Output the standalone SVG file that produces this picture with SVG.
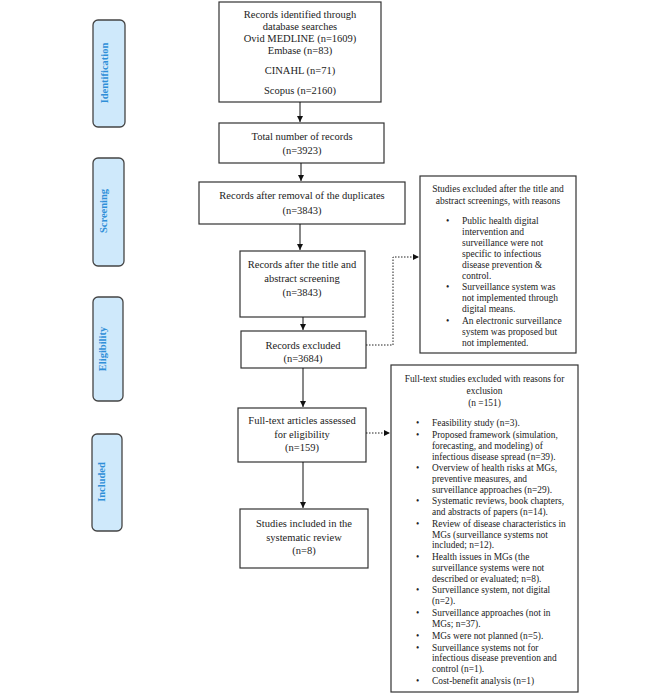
<svg xmlns="http://www.w3.org/2000/svg" width="670" height="695" viewBox="0 0 670 695">
<defs>
<marker id="ah" viewBox="0 0 10 10" refX="10" refY="5" markerWidth="6" markerHeight="6" markerUnits="userSpaceOnUse" orient="auto">
<path d="M0,0 L10,5 L0,10 z" fill="#111"/>
</marker>
</defs>
<style>
.box{fill:#fff;stroke:#333;stroke-width:1.2}
.stage{fill:#cfe9fb;stroke:#444;stroke-width:1.3}
.st{font-family:"Liberation Serif",serif;font-weight:bold;font-size:10.5px;fill:#2f8fd8}
.t{font-family:"Liberation Serif",serif;font-size:10.5px;fill:#222}
.m{text-anchor:middle}
.s{font-family:"Liberation Serif",serif;font-size:9.5px;fill:#222}
.s2{font-family:"Liberation Serif",serif;font-size:9.4px;fill:#222}
.c{fill:none;stroke:#111;stroke-width:1}
.d{fill:none;stroke:#222;stroke-width:1;stroke-dasharray:1.5 1.5}
</style>
<g id="stage-identification">
<rect class="stage" x="93" y="20" width="32" height="107" rx="5"/>
<text class="st m" transform="translate(108,73) rotate(-90)">Identification</text>
</g>
<g id="stage-screening">
<rect class="stage" x="93" y="158" width="31" height="108" rx="5"/>
<text class="st m" transform="translate(107,211) rotate(-90)">Screening</text>
</g>
<g id="stage-eligibility">
<rect class="stage" x="93" y="297" width="30" height="104" rx="5"/>
<text class="st m" transform="translate(106,349) rotate(-90)">Eligibility</text>
</g>
<g id="stage-included">
<rect class="stage" x="92" y="434" width="30" height="97" rx="5"/>
<text class="st m" transform="translate(105,482) rotate(-90)">Included</text>
</g>

<g id="n-records">
<rect class="box" x="219" y="2" width="162" height="100"/>
<text class="t m" x="300" y="17.5">Records identified through</text>
<text class="t m" x="300" y="30">database searches</text>
<text class="t m" x="300" y="42">Ovid MEDLINE (n=1609)</text>
<text class="t m" x="300" y="54">Embase (n=83)</text>
<text class="t m" x="300" y="74">CINAHL (n=71)</text>
<text class="t m" x="300" y="94">Scopus (n=2160)</text>
</g>
<g id="n-total">
<rect class="box" x="219" y="123" width="165" height="40"/>
<text class="t m" x="302" y="139.5">Total number of records</text>
<text class="t m" x="302" y="153.5">(n=3923)</text>
</g>
<g id="n-dup">
<rect class="box" x="199" y="182" width="206" height="42"/>
<text class="t m" x="302" y="198.5">Records after removal of the duplicates</text>
<text class="t m" x="302" y="213.5">(n=3843)</text>
</g>
<g id="n-title">
<rect class="box" x="240" y="251" width="125" height="66"/>
<text class="t m" x="302" y="267.5">Records after the title and</text>
<text class="t m" x="302" y="281.5">abstract screening</text>
<text class="t m" x="302" y="295.5">(n=3843)</text>
</g>
<g id="n-excluded">
<rect class="box" x="241" y="331" width="125" height="37"/>
<text class="t m" x="303" y="348.5">Records excluded</text>
<text class="t m" x="303" y="361.5">(n=3684)</text>
</g>
<g id="n-fulltext">
<rect class="box" x="238" y="408" width="128" height="54"/>
<text class="t m" x="302" y="423.5">Full-text articles assessed</text>
<text class="t m" x="302" y="437.5">for eligibility</text>
<text class="t m" x="302" y="450.5">(n=159)</text>
</g>
<g id="n-included">
<rect class="box" x="240" y="509" width="128" height="59"/>
<text class="t m" x="304" y="526.5">Studies included in the</text>
<text class="t m" x="304" y="540.5">systematic review</text>
<text class="t m" x="304" y="553.5">(n=8)</text>
</g>

<g id="n-excl1">
<rect class="box" x="420" y="176" width="156" height="177"/>
<text class="s m" x="498" y="191.5">Studies excluded after the title and</text>
<text class="s m" x="498" y="203.5">abstract screenings, with reasons</text>
<g class="s">
<text x="446" y="223.5">•</text>
<text x="462" y="223.5">Public health digital</text>
<text x="462" y="234.5">intervention and</text>
<text x="462" y="245.5">surveillance were not</text>
<text x="462" y="256.5">specific to infectious</text>
<text x="462" y="267.5">disease prevention &amp;</text>
<text x="462" y="278.5">control.</text>
<text x="446" y="289.5">•</text>
<text x="462" y="289.5">Surveillance system was</text>
<text x="462" y="300.5">not implemented through</text>
<text x="462" y="311.5">digital means.</text>
<text x="446" y="323.5">•</text>
<text x="462" y="323.5">An electronic surveillance</text>
<text x="462" y="334.5">system was proposed but</text>
<text x="462" y="345.5">not implemented.</text>
</g>
</g>

<g id="n-excl2">
<rect class="box" x="391" y="365" width="187" height="327"/>
<text class="s2 m" x="484.5" y="381.5">Full-text studies excluded with reasons for</text>
<text class="s2 m" x="484.5" y="393.5">exclusion</text>
<text class="s2 m" x="484.5" y="405.5">(n =151)</text>
<g class="s2">
<text x="416" y="425.5">•</text><text x="432" y="425.5">Feasibility study (n=3).</text>
<text x="416" y="437.5">•</text><text x="432" y="437.5">Proposed framework (simulation,</text>
<text x="432" y="448.5">forecasting, and modeling) of</text>
<text x="432" y="459.5">infectious disease spread (n=39).</text>
<text x="416" y="470.5">•</text><text x="432" y="470.5">Overview of health risks at MGs,</text>
<text x="432" y="481.5">preventive measures, and</text>
<text x="432" y="492.5">surveillance approaches (n=29).</text>
<text x="416" y="503.5">•</text><text x="432" y="503.5">Systematic reviews, book chapters,</text>
<text x="432" y="514.5">and abstracts of papers (n=14).</text>
<text x="416" y="526.5">•</text><text x="432" y="526.5">Review of disease characteristics in</text>
<text x="432" y="537.5">MGs (surveillance systems not</text>
<text x="432" y="547.5">included; n=12).</text>
<text x="416" y="559.5">•</text><text x="432" y="559.5">Health issues in MGs (the</text>
<text x="432" y="570.5">surveillance systems were not</text>
<text x="432" y="581.5">described or evaluated; n=8).</text>
<text x="416" y="592.5">•</text><text x="432" y="592.5">Surveillance system, not digital</text>
<text x="432" y="603.5">(n=2).</text>
<text x="416" y="615.5">•</text><text x="432" y="615.5">Surveillance approaches (not in</text>
<text x="432" y="626.5">MGs; n=37).</text>
<text x="416" y="638.5">•</text><text x="432" y="638.5">MGs were not planned (n=5).</text>
<text x="416" y="650.5">•</text><text x="432" y="650.5">Surveillance systems not for</text>
<text x="432" y="660.5">infectious disease prevention and</text>
<text x="432" y="671.5">control (n=1).</text>
<text x="416" y="683.5">•</text><text x="432" y="683.5">Cost-benefit analysis (n=1)</text>
</g>
</g>

<g id="connectors">
<line class="c" x1="300" y1="102" x2="300" y2="122" marker-end="url(#ah)"/>
<line class="c" x1="301" y1="163" x2="301" y2="181" marker-end="url(#ah)"/>
<line class="c" x1="300" y1="224" x2="300" y2="250" marker-end="url(#ah)"/>
<line class="c" x1="303" y1="317" x2="303" y2="330" marker-end="url(#ah)"/>
<line class="c" x1="303" y1="368" x2="303" y2="407" marker-end="url(#ah)"/>
<line class="c" x1="303" y1="462" x2="303" y2="508" marker-end="url(#ah)"/>
<polyline class="d" points="366,345 393,345 393,257 419,257" marker-end="url(#ah)"/>
<line class="d" x1="366" y1="433" x2="390" y2="433" marker-end="url(#ah)"/>
</g>
</svg>
